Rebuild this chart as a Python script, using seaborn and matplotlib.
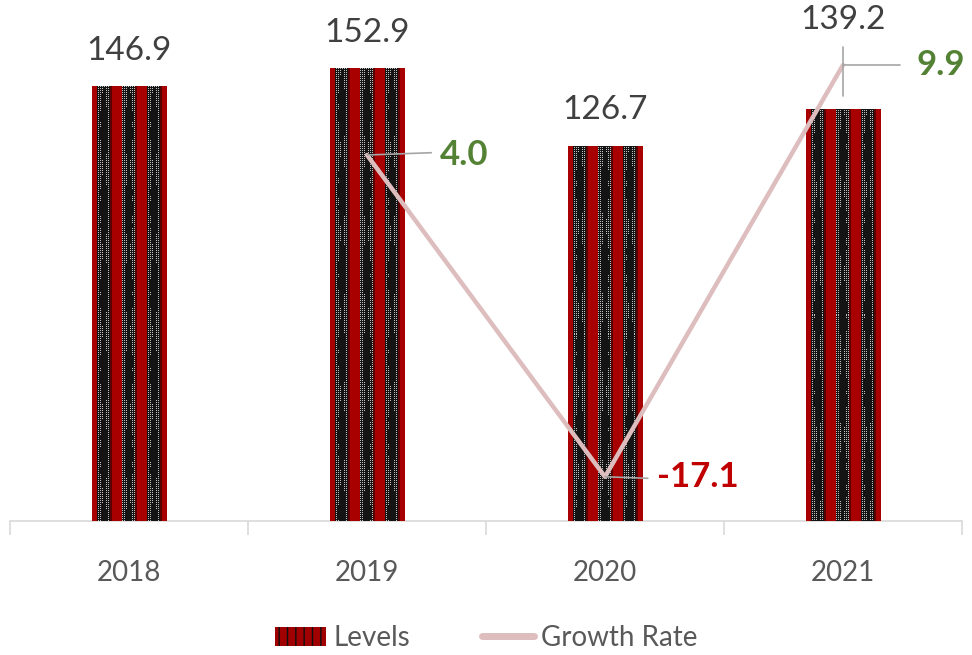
import numpy as np
import pandas as pd
import matplotlib
matplotlib.use("Agg")
import matplotlib.pyplot as plt
from matplotlib.patches import Patch
from matplotlib.lines import Line2D
import seaborn as sns

# data
years = ["2018", "2019", "2020", "2021"]
levels = [146.9, 152.9, 126.7, 139.2]
growth = [np.nan, 4.0, -17.1, 9.9]

df = pd.DataFrame({"year": years, "levels": levels, "growth": growth})
df["pos"] = np.arange(len(years))

sns.set_style("white")
plt.rcParams["font.family"] = ["Lato", "DejaVu Sans"]

fig = plt.figure(figsize=(9.72, 6.55), dpi=100)
ax = fig.add_axes([10 / 972, 1 - 521 / 655, 952 / 972, 521 / 655])

sns.barplot(data=df, x="year", y="levels", color="#A00000", width=0.315,
            ax=ax, zorder=2, linewidth=0)
YMAX = 176
ax.set_ylim(0, YMAX)
ax.set_xlim(-0.5, 3.5)


# woven texture for the bars
def make_texture(h, w=75):
    tex = np.zeros((h, w, 3))
    red = np.array([0.66, 0.0, 0.0])
    dark_red = np.array([0.35, 0.0, 0.0])
    gray = np.array([0.75, 0.75, 0.75])
    black = np.array([0.08, 0.08, 0.08])
    rr, cc = np.mgrid[0:h, 0:w]
    tex[:] = red
    period = 25
    m = cc % period
    dotted = (m >= 5) & (m < 18)
    chk = ((rr % 2 == 0) & (cc % 2 == 0))
    tex[dotted] = black
    tex[dotted & chk] = gray
    width = 0.5 + 4.0 * np.abs(np.sin(rr / 26.0)) * (0.6 + 0.4 * np.abs(np.sin(rr / 6.0)))
    motif = dotted & (np.abs(m - 11.5) < width)
    tex[motif] = black
    tex[(m >= 18) & (m < 20)] = dark_red
    return tex


for p in ax.patches:
    x0 = p.get_x()
    w = p.get_width()
    h = p.get_height()
    npx = int(round(h / YMAX * 521))
    img = ax.imshow(make_texture(npx), extent=[x0, x0 + w, 0, h],
                    aspect="auto", interpolation="nearest", zorder=3)
    img.set_clip_path(p)
ax.set_ylim(0, YMAX)
ax.set_xlim(-0.5, 3.5)

# value labels on bars
offsets = [12, 12, 12, 30]
for i, v in enumerate(levels):
    ax.text(i, v + offsets[i], f"{v:.1f}", ha="center", va="center",
            fontsize=24, color="#404040", clip_on=False)

# growth line
ax2 = ax.twinx()
sns.lineplot(data=df, x="pos", y="growth", ax=ax2, color="#DDBDBD",
             linewidth=3.2, zorder=5)
G_MIN = -20
G_MAX = 216 / (305 / 20)
ax2.set_ylim(G_MIN, G_MAX)
ax2.set_xlim(-0.5, 3.5)

# leader lines and labels for growth rates
lead = "#A6A6A6"
ax2.plot([1, 1.27], [4.0, 4.15], color=lead, lw=1.2, zorder=6)
ax2.text(1.41, 4.0, "4.0", ha="center", va="center", fontsize=25,
         fontweight="bold", color="#548235")
ax2.plot([2, 2.18], [-17.1, -17.2], color=lead, lw=1.2, zorder=6)
ax2.text(2.39, -17.1, "-17.1", ha="center", va="center", fontsize=25,
         fontweight="bold", color="#C00000")
ax2.plot([3, 3.24], [9.9, 9.9], color=lead, lw=1.2, zorder=6)
ax2.plot([3, 3], [7.9, 11.1], color=lead, lw=1.2, zorder=6)
ax2.text(3.41, 9.9, "9.9", ha="center", va="center", fontsize=25,
         fontweight="bold", color="#548235")

# axes styling
for a in (ax, ax2):
    for s in ["top", "right", "left"]:
        a.spines[s].set_visible(False)
    a.set_ylabel("")
    a.set_xlabel("")
ax2.spines["bottom"].set_visible(False)
ax2.set_yticks([])
ax2.set_xticks([])
ax.set_yticks([])
ax.spines["bottom"].set_color("#D9D9D9")
ax.spines["bottom"].set_linewidth(1.2)
ax.set_xticks([0, 1, 2, 3])
ax.set_xticklabels(years)
ax.set_xticks([-0.5, 0.5, 1.5, 2.5, 3.5], minor=True)
ax.tick_params(axis="x", which="major", length=0, labelsize=20,
               labelcolor="#595959", pad=28)
ax.tick_params(axis="x", which="minor", length=10, width=1.2,
               color="#D9D9D9", bottom=True)

# legend
handles = [Patch(facecolor="#A00000", edgecolor="#111111", hatch="||",
                 linewidth=0),
           Line2D([0], [0], color="#DDBDBD", lw=5, solid_capstyle="round")]
fig.legend(handles, ["Levels", "Growth Rate"], loc="center",
           bbox_to_anchor=(0.5, 17 / 655), ncol=2, frameon=False,
           fontsize=20, labelcolor="#595959", handlelength=1.85,
           handletextpad=0.25, columnspacing=2.6)

fig.savefig("out.png", dpi=100)
